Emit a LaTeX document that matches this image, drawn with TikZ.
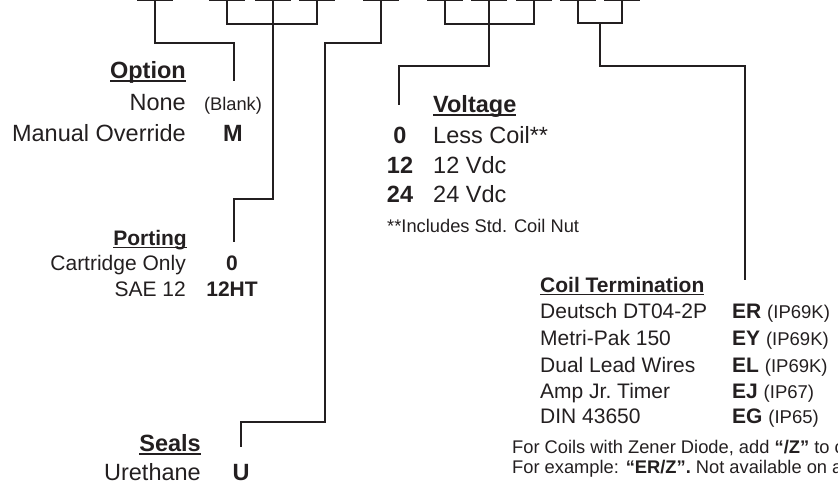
\documentclass[tikz,border=0pt]{standalone}
\usepackage{fontspec}
\setmainfont{Liberation Sans}
\usetikzlibrary{positioning}
\definecolor{ink}{HTML}{231F20}
\newcommand\hdline[1]{\setbox0\hbox{#1}\rlap{\rule[-0.16em]{\wd0}{0.075em}}\box0}
\tikzset{
  wire/.style   = {draw=ink, line width=1.3pt},
  slot/.style   = {draw=ink, line width=2pt},
  txt/.style    = {inner sep=0pt, text=ink},
  bigtxt/.style = {txt, font=\fontsize{23.5}{28}\selectfont},
  midtxt/.style = {txt, font=\fontsize{21}{25}\selectfont},
  coiltxt/.style= {txt, font=\fontsize{21}{25}\selectfont},
  notetxt/.style= {txt, font=\fontsize{18.3}{22}\selectfont}
}

\begin{document}
\begin{tikzpicture}[x=1pt, y=-1pt]
  \useasboundingbox (0,0) rectangle (838,485);

  % blanks of the model code
  \foreach \n/\x in {1/155, 2/227, 3/273, 4/317, 5/381, 6/445, 7/489, 8/534, 9/578, 10/622} {
    \coordinate (b\n) at (\x,0);
    \draw[slot] ([xshift=-18pt]b\n) -- ([xshift=18pt]b\n);
  }

  % Option
  \node[bigtxt, anchor=base east] (option) at (186,78)  {\textbf{\hdline{Option}}};
  \node[bigtxt, anchor=base east] (none)   at (186,110) {None};
  \node[notetxt, anchor=base]     (blank)  at (233,110) {(Blank)};
  \node[bigtxt, anchor=base east] (manual) at (186,141) {Manual Override};
  \node[bigtxt, anchor=base]      (codeM)  at (233,141) {\textbf{M}};
  \coordinate (optend) at (234,81);

  % Porting
  \node[midtxt, anchor=base east] (porting) at (187,245) {\textbf{\hdline{Porting}}};
  \node[midtxt, anchor=base east] (cart)    at (186,270) {Cartridge Only};
  \node[midtxt, anchor=base]      (code0)   at (232,270) {\textbf{0}};
  \node[midtxt, anchor=base east] (sae)     at (186,296) {SAE 12};
  \node[midtxt, anchor=base]      (code12)  at (232,296) {\textbf{12HT}};
  \coordinate (portend) at (234,242);

  % Seals
  \node[bigtxt, anchor=base east] (seals)    at (201,451) {\textbf{\hdline{Seals}}};
  \node[bigtxt, anchor=base east] (urethane) at (201,480) {Urethane};
  \node[bigtxt, anchor=base]      (codeU)    at (241,480) {\textbf{U}};
  \coordinate (sealend) at (241,447);

  % Voltage
  \node[bigtxt, anchor=base west] (voltage) at (433,112) {\textbf{\hdline{Voltage}}};
  \foreach \y/\v/\txt [count=\i] in {143/0/Less Coil**, 173/12/12 Vdc, 202/24/24 Vdc} {
    \node[bigtxt, anchor=base]      (volt\i) at (400,\y) {\textbf{\v}};
    \node[bigtxt, anchor=base west] (vtxt\i) at (433,\y) {\txt};
  }
  \node[notetxt, anchor=base west] (coilnut) at (387,232) {**Includes Std. Coil Nut};
  \coordinate (voltend) at (399,105);

  % Coil Termination
  \node[coiltxt, anchor=base west] (coilhead) at (540,292) {\textbf{\hdline{Coil Termination}}};
  \foreach \y/\name/\code/\ip [count=\i] in {318/Deutsch DT04-2P/ER/IP69K, 345/Metri-Pak 150/EY/IP69K,
      372/Dual Lead Wires/EL/IP69K, 398/Amp Jr.\ Timer/EJ/IP67, 423/DIN 43650/EG/IP65} {
    \node[coiltxt, anchor=base west] (term\i) at (540,\y) {\name};
    \node[coiltxt, anchor=base west] (ecode\i) at (732,\y) {\textbf{\code} {\fontsize{18.5}{22}\selectfont(\ip)}};
  }
  \node[notetxt, anchor=base west] (zener1) at (512,453) {For Coils with Zener Diode, add \textbf{“/Z”} to c};
  \node[notetxt, anchor=base west] (zener2) at (512,473) {For example: \textbf{“ER/Z”.} Not available on al};
  \coordinate (coilend) at (745,280);

  % connectors
  \draw[wire] (b1) -- (155,43) -| (optend);
  \draw[wire] (b2) -- (227,24) -| (b4);
  \draw[wire] (b3) -- (273,199) -| (portend);
  \draw[wire] (b5) -- (381,43) -| (325,422) -| (sealend);
  \draw[wire] (b6) -- (445,24) -| (b8);
  \draw[wire] (b7) -- (489,66) -| (voltend);
  \draw[wire] (b9) -- (578,23) -| (b10);
  \draw[wire] (600,23) -- (600,66) -| (coilend);
\end{tikzpicture}
\end{document}
